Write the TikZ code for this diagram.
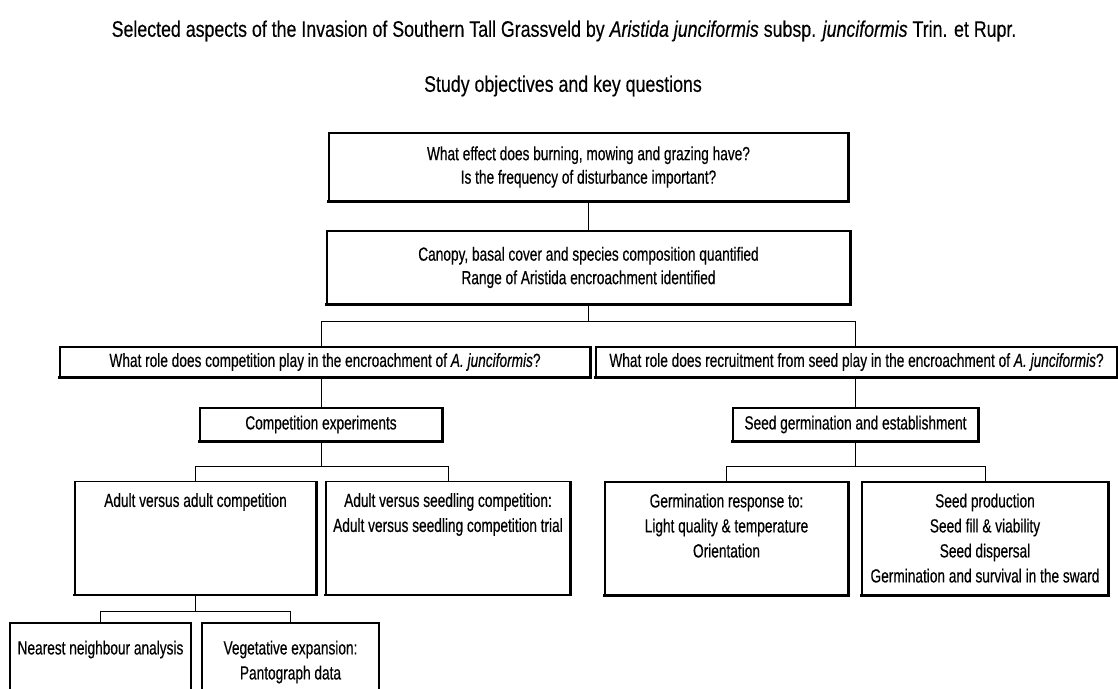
\documentclass[tikz,border=0pt]{standalone}
\usepackage{fontspec}
\setmainfont{Liberation Sans}[FakeStretch=0.79,FakeBold=0.3]
\newfontfamily\boxfont{Liberation Sans}[FakeStretch=0.72,FakeBold=0.4]
\begin{document}
\begin{tikzpicture}[x=1pt,y=-1pt,
  box/.style={draw=black,line width=1.1pt,rectangle,inner sep=0pt,align=center,font=\boxfont\fontsize{19}{23.5}\selectfont},
  txt/.style={inner sep=0pt,align=center,font=\boxfont\fontsize{19}{25}\selectfont},
  heavy/.style={draw=black,line width=2.2pt,line cap=rect},
  conn/.style={draw=black,line width=0.9pt}]
\useasboundingbox (0,0) rectangle (1118,688);
\clip (0,0) rectangle (1118,688);
\node[inner sep=0pt,font=\fontsize{22.5}{24}\selectfont] (title) at (564,31) {Selected aspects of the Invasion of Southern Tall Grassveld by \textit{Aristida junciformis} subsp. \textit{junciformis} Trin. et Rupr.};
\node[inner sep=0pt,font=\fontsize{22.5}{24}\selectfont] (sub) at (563,86) {Study objectives and key questions};

\node[box,minimum width=519,minimum height=68] (b1) at (588.5,167) {What effect does burning, mowing and grazing have?\\Is the frequency of disturbance important?};
\node[box,minimum width=523,minimum height=73] (b2) at (588.5,267.5) {Canopy, basal cover and species composition quantified\\Range of Aristida encroachment identified};
\node[box,minimum width=530,minimum height=30] (l1) at (325,362) {What role does competition play in the encroachment of \textit{A. junciformis}?};
\node[box,minimum width=521,minimum height=30] (r1) at (856.5,362) {What role does recruitment from seed play in the encroachment of \textit{A. junciformis}?};
\node[box,minimum width=242,minimum height=33] (ce) at (321,424.5) {Competition experiments};
\node[box,minimum width=245,minimum height=33] (sg) at (855.5,424.5) {Seed germination and establishment};

\node[box,minimum width=241,minimum height=113] (aa) at (195.5,538) {};
\node[txt,anchor=north] (aat) at ([yshift=-12]aa.north) {Adult versus adult competition};
\node[box,minimum width=244,minimum height=113] (as) at (448,538) {};
\node[txt,anchor=north] (ast) at ([yshift=-12]as.north) {Adult versus seedling competition:\\Adult versus seedling competition trial};
\node[box,minimum width=243,minimum height=113] (gr) at (726.5,538.5) {};
\node[txt,anchor=north] (grt) at ([yshift=-12]gr.north) {Germination response to:\\Light quality \& temperature\\Orientation};
\node[box,minimum width=246,minimum height=113] (sp) at (985,538.5) {};
\node[txt,anchor=north] (spt) at ([yshift=-12]sp.north) {Seed production\\Seed fill \& viability\\Seed dispersal\\Germination and survival in the sward};

\node[box,minimum width=181,minimum height=80] (nn) at (100.5,663) {};
\node[txt,anchor=north] (nnt) at ([yshift=-18]nn.north) {Nearest neighbour analysis};
\node[box,minimum width=177,minimum height=80] (ve) at (290.5,663) {};
\node[txt,anchor=north] (vet) at ([yshift=-18]ve.north) {Vegetative expansion:\\Pantograph data};

\foreach \n in {b1,b2,l1,r1,ce,sg,aa,as,gr,sp}
  \draw[heavy] (\n.south west) -- (\n.south east) -- ([yshift=-1]\n.south east|-\n.north);

\draw[conn] (b1.south) -- (b2.north);
\draw[conn] (b2.south) -- ++(0,17) -| (ce.north |- l1.north);
\draw[conn] (b2.south) -- ++(0,17) -| (sg.north |- r1.north);
\draw[conn] (ce.north |- l1.south) -- (ce.north);
\draw[conn] (sg.north |- r1.south) -- (sg.north);
\draw[conn] (ce.south) -- ++(0,25) -| (aa.north);
\draw[conn] (ce.south) -- ++(0,25) -| (as.north);
\draw[conn] (sg.south) -- ++(0,25) -| (gr.north);
\draw[conn] (sg.south) -- ++(0,25) -| (sp.north);
\draw[conn] (aa.south) -- ++(0,16) -| (nn.north);
\draw[conn] (aa.south) -- ++(0,16) -| (ve.north);
\end{tikzpicture}
\end{document}
